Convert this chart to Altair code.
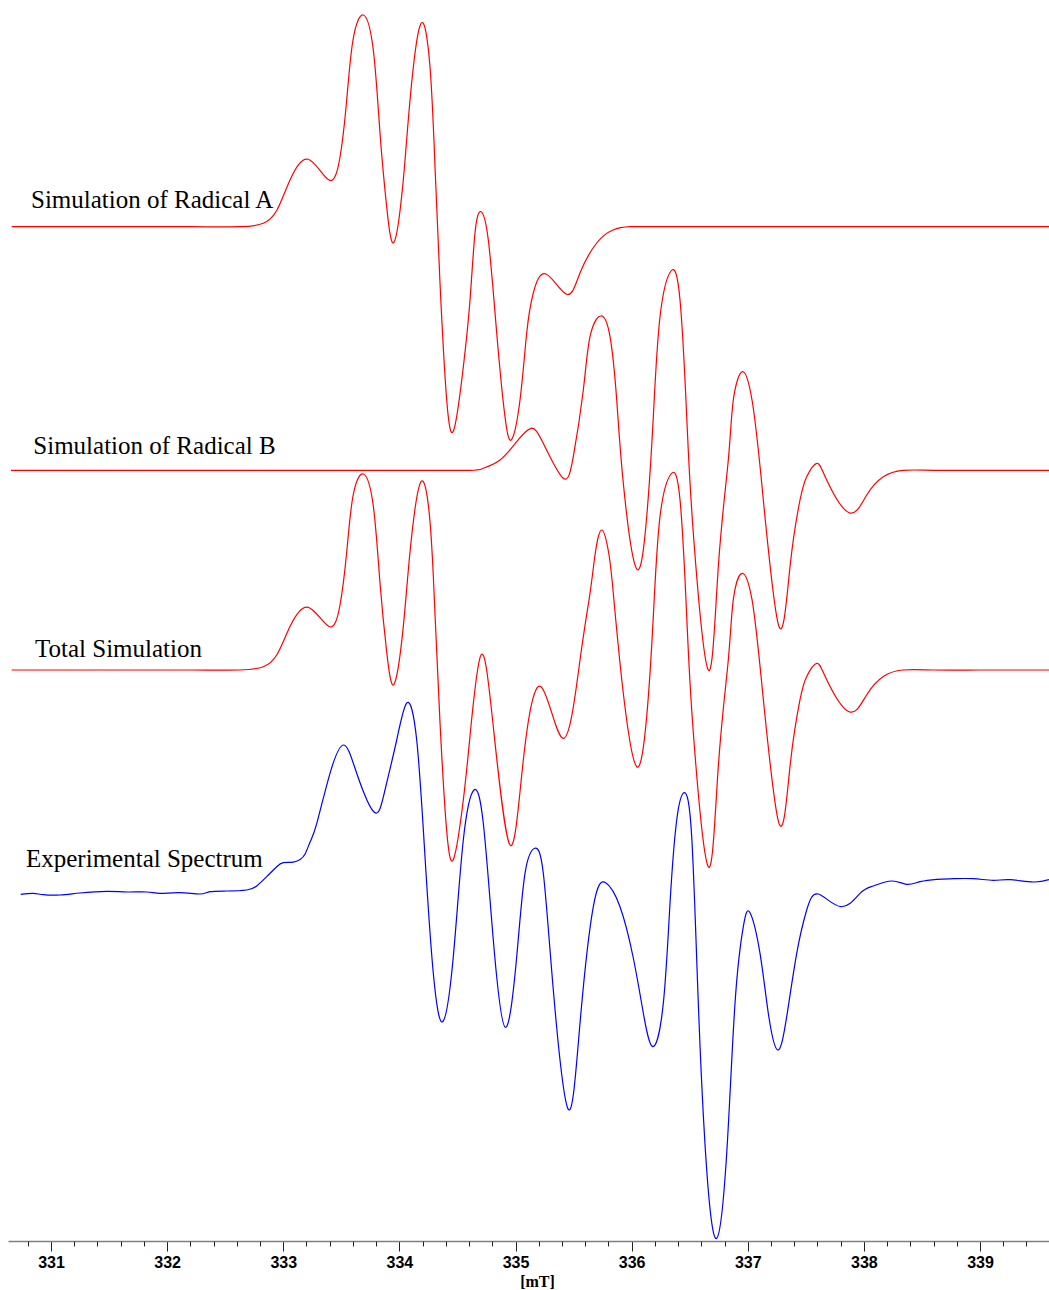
import altair as alt
import pandas as pd

# Magnetic field (mT) and first-derivative intensity (a.u., relative to each trace's baseline)
rad_a_field = [330.6616, 331.5, 332.2, 332.628, 332.8282, 332.9462, 333.0581, 333.2157, 333.394, 333.4887,
               333.5464, 333.6006, 333.6893, 333.7754, 333.8331, 333.8908, 333.9537, 334.0312,
               334.0915, 334.1836, 334.2637, 334.3068, 334.3498, 334.4075, 334.4704, 334.5505,
               334.6082, 334.6512, 334.7003, 334.7658, 334.8381, 334.9096, 334.9673, 335.0387,
               335.0964, 335.1533, 335.2626, 335.4409, 335.5554, 335.6992, 335.8396, 335.986,
               336.2, 336.5, 337.0, 338.0, 339.594]
rad_a_int = [0, 0, 0, 0, 3.4, 16.7, 46.7, 67.4, 46.7, 69.7,
             126.7, 186.7, 211.7, 176.7, 93.7, 19.7, -15.6, 43.7,
             126.7, 202.7, 159.7, 59.7, -56.3, -173.3, -202.6, -140.3,
             -73.3, -6.3, 15, -13.3, -106.3, -190.3, -212.6, -173.3,
             -106.3, -66.3, -47.3, -67.6, -46.3, -16.3, -3.3, 0,
             0, 0, 0, 0, 0]

rad_b_field = [330.6555, 332.0, 333.5, 334.2, 334.6082, 334.7227, 334.8665, 335.0103, 335.1335, 335.2394, 335.4064,
               335.4977, 335.5838, 335.6415, 335.7337, 335.8138, 335.8715, 335.9283, 336.042,
               336.1298, 336.1867, 336.2443, 336.3391, 336.4166, 336.4743, 336.5311, 336.6603,
               336.7464, 336.8325, 336.8755, 336.9564, 337.0366, 337.1201, 337.2648, 337.3638,
               337.4499, 337.5076, 337.5938, 337.6799, 337.8719, 338.0244, 338.1673, 338.3368,
               338.6, 339.0, 339.594]
rad_b_int = [0, 0, 0, 0, 0, 2, 10.3, 28.6, 42, 27, -7.4,
             13.6, 80.3, 133.6, 154.3, 133.6, 70.3, -13, -98.4,
             -46.4, 53.6, 153.6, 199.3, 170.3, 53.6, -62.7, -199.7,
             -96.4, 10.3, 70.3, 98.6, 70.3, -13, -154.7, -96.4,
             -29.7, -6.4, 7, -9.7, -42.4, -24.7, -6.4, 0,
             0, 0, 0]

total_field = [330.6616, 331.5, 332.2, 332.628, 332.8282, 332.9462, 333.0581, 333.2157, 333.394, 333.4887,
               333.5464, 333.6006, 333.6893, 333.7754, 333.8331, 333.8908, 333.9537, 334.0312,
               334.0915, 334.1836, 334.2637, 334.3068, 334.3498, 334.4075, 334.4704, 334.5505,
               334.6082, 334.7029, 334.8088, 334.9526, 335.0672,
               335.2196, 335.4116, 335.5554, 335.6415, 335.6871, 335.744, 335.8025, 335.8422, 335.9283, 336.0437,
               336.1298, 336.1867, 336.2443, 336.3391, 336.4166, 336.4743, 336.5311, 336.6603,
               336.7464, 336.8325, 336.8755, 336.953, 337.0366, 337.1201, 337.2664, 337.3638,
               337.4499, 337.5076, 337.5938, 337.6799, 337.8719, 338.0244, 338.1673, 338.3368,
               338.6, 339.0, 339.594]
total_int = [0, 0, 0, 0, 3.2, 15.5, 43.4, 62.7, 43.5, 65,
             118, 174, 196, 164, 87, 18, -14.3, 40.6,
             118, 187.7, 148.5, 55.5, -52.4, -161, -187.7, -130,
             -66, 15, -56.7, -175, -90,
             -16.7, -68.3, 10, 76.7, 117, 140, 117, 76.7, -23.3, -96.7,
             -46.4, 53.6, 153.6, 196, 170.3, 53.6, -62.7, -196.7,
             -96.4, 10.3, 70.3, 96.7, 70.3, -13, -152.3, -96.4,
             -29.7, -6.4, 6.7, -9.7, -41.7, -24.7, -6.4, 0,
             0, 0, 0]

exp_field = [330.739, 330.8476, 330.9337, 331.0775, 331.2497, 331.4796, 331.6519, 331.8241,
             331.9386, 332.1109, 332.2831, 332.3692, 332.513, 332.6852, 332.7713, 332.8574,
             332.9436, 333.0011, 333.0847, 333.145, 333.188, 333.2311, 333.2888, 333.4026, 333.5205, 333.6325,
             333.784, 333.8762, 333.977, 334.0656, 334.1491, 334.2206, 334.2921, 334.373,
             334.4643, 334.5504, 334.6426, 334.7227, 334.8088, 334.9121, 335.0103, 335.0818,
             335.1653, 335.2394, 335.3255, 335.4547, 335.5554, 335.6699, 335.7767, 335.8998,
             336.0144, 336.1005, 336.184, 336.2728, 336.3305, 336.3882, 336.4536, 336.5173,
             336.5742, 336.6465, 336.7326, 336.8187, 336.8902, 336.9617, 337.0194, 337.1055,
             337.177, 337.2579, 337.3354, 337.4215, 337.5076, 337.6075, 337.803, 337.9666,
             338.0811, 338.2396, 338.3687, 338.4833, 338.6271, 338.7701, 338.9423, 339.1145,
             339.2583, 339.459, 339.5941]
exp_int = [-1.3, -0.3, -1.7, -2, 0, 1.7, 1, 1,
           -0.3, 0.3, -1, 1.3, 2, 3, 7, 16.3,
           26.3, 30.3, 30.8, 33.5, 39, 51, 69.7, 119.7, 148, 119.7,
           80.7, 103, 153, 190.3, 153, 36.3, -80.3, -128.7,
           -63.7, 53, 103, 69.7, -47, -134.3, -63.7, 19.7,
           44.7, 19.7, -97, -216.3, -130.3, -13.7, 10.3, -13.7,
           -65, -120, -153.7, -110.3, -10.3, 73, 100.3, 56.3,
           -110.3, -277, -345.3, -260.3, -110.3, -33.7, -19.7, -60.3,
           -120.3, -157, -123.7, -60.3, -17, -1, -13.7, -0.3,
           7, 12, 8.7, 11.3, 13.7, 14.3, 14.3, 12.7,
           13.3, 11, 13.3]

# Vertical offsets that stack the four spectra
trace_names = ["Radical A", "Radical B", "Total", "Experimental"]
trace_offsets = [1014.3, 770.7, 571.0, 348.0]
trace_colors = ["#ff0000", "#ff0000", "#ff0000", "#0000ff"]

label_texts = ["Simulation of Radical A", "Simulation of Radical B",
               "Total Simulation", "Experimental Spectrum"]
label_field = [330.8278, 330.8476, 330.8622, 330.7847]
label_lift = [18.4, 16.0, 13.3, 25.7]

major_ticks = [331, 332, 333, 334, 335, 336, 337, 338, 339]
minor_ticks = [330.8, 331.2, 331.4, 331.6, 331.8, 332.2, 332.4, 332.6, 332.8,
               333.2, 333.4, 333.6, 333.8, 334.2, 334.4, 334.6, 334.8,
               335.2, 335.4, 335.6, 335.8, 336.2, 336.4, 336.6, 336.8,
               337.2, 337.4, 337.6, 337.8, 338.2, 338.4, 338.6, 338.8,
               339.2, 339.4]

series = [(rad_a_field, rad_a_int), (rad_b_field, rad_b_int),
          (total_field, total_int), (exp_field, exp_int)]
frames = []
for name, offset, (fld, inten) in zip(trace_names, trace_offsets, series):
    frames.append(pd.DataFrame({
        "field": fld,
        "y": [offset + v for v in inten],
        "trace": name,
    }))
spectra = pd.concat(frames, ignore_index=True)

labels = pd.DataFrame({
    "field": label_field,
    "y": [o + d for o, d in zip(trace_offsets, label_lift)],
    "text": label_texts,
})

x_scale = alt.Scale(domain=[330.6297, 339.594], nice=False, zero=False)
y_scale = alt.Scale(domain=[0, 1241], nice=False, zero=False)

lines = alt.Chart(spectra).mark_line(
    interpolate="natural", strokeWidth=1.2
).encode(
    x=alt.X("field:Q", scale=x_scale, axis=alt.Axis(
        orient="bottom", values=major_ticks, format=".0f", grid=False,
        tickSize=10, tickColor="#222222", tickWidth=1,
        domainColor="#808080", domainWidth=1.6,
        labelFont="Liberation Sans", labelFontWeight="bold", labelFontSize=16,
        labelColor="#000000", labelPadding=3,
        title="[mT]", titleFont="Liberation Serif", titleFontWeight="bold",
        titleFontSize=16, titleColor="#000000", titleX=529, titleY=45,
        titleBaseline="alphabetic", titleAlign="center",
    )),
    y=alt.Y("y:Q", scale=y_scale, axis=None),
    color=alt.Color("trace:N", scale=alt.Scale(domain=trace_names, range=trace_colors), legend=None),
    order=alt.Order("field:Q"),
)

text = alt.Chart(labels).mark_text(
    align="left", baseline="alphabetic", font="Liberation Serif", fontSize=25, color="#000000"
).encode(
    x=alt.X("field:Q", scale=x_scale, axis=alt.Axis(
        orient="bottom", values=minor_ticks, labels=False, domain=False, grid=False,
        tickSize=5, tickColor="#222222", tickWidth=1,
    ), title=None),
    y=alt.Y("y:Q", scale=y_scale, axis=None),
    text="text:N",
)

chart = alt.layer(lines, text).resolve_axis(x="independent").properties(
    width=1041,
    height=1241,
    padding={"left": 8, "top": 0, "right": 0, "bottom": 49},
    autosize=alt.AutoSizeParams(type="none"),
).configure_view(stroke=None)

chart.save("out.html", embed_options={"renderer": "svg", "actions": False})
